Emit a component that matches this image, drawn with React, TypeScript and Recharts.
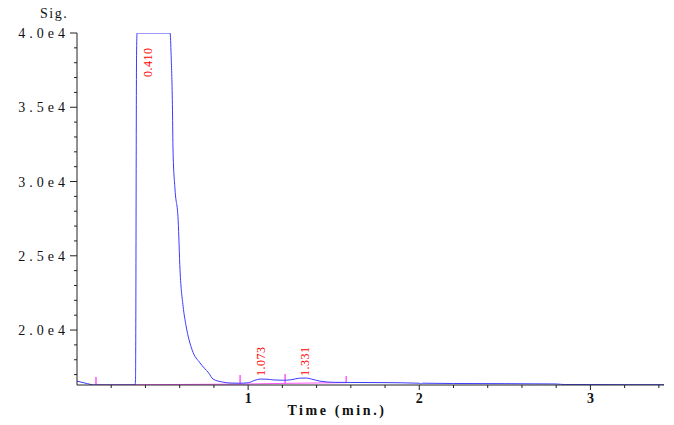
import { LineChart, Line, XAxis, YAxis, LabelList } from 'recharts';

// detector signal (blue trace)
const times = [
  0, 0.047, 0.105, 0.2, 0.3, 0.339, 0.342, 0.343, 0.348, 0.351, 0.544, 0.55, 0.558, 0.561,
  0.573, 0.591, 0.602, 0.62, 0.637, 0.673, 0.719, 0.77, 0.795, 0.85, 0.9, 0.95, 1.0, 1.04,
  1.07, 1.11, 1.15, 1.2, 1.25, 1.3, 1.34, 1.37, 1.42, 1.5, 1.6, 1.8, 2.0, 2.01, 2.02, 2.2,
  2.5, 2.8, 2.85, 3.0, 3.2, 3.43,
];
const signal = [
  16560, 16430, 16300, 16300, 16300, 16300, 16630, 18520, 38500, 40000, 40000, 38500, 34800,
  32120, 29430, 27400, 24040, 21600, 20300, 18650, 17780, 17100, 16700, 16500, 16430, 16420,
  16450, 16620, 16700, 16690, 16640, 16620, 16650, 16760, 16770, 16700, 16560, 16480, 16470,
  16460, 16420, 16370, 16420, 16400, 16390, 16370, 16330, 16330, 16320, 16320,
];

// integration baseline (magenta) with event markers
const markerTimes = [0.111, 0.953, 1.216, 1.573];
const markerBase = [16300, 16360, 16410, 16460];
const markerTop = [16840, 16970, 17040, 16900];

// peak annotations (value at the bottom end of each rotated label)
const peakTimes = [0.415, 1.076, 1.333];
const peakLabels = ['0.410', '1.073', '1.331'];
const peakLabelBase = [37040, 16900, 16900];

const yTicks = [17000, 18000, 19000, 20000, 21000, 22000, 23000, 24000, 25000, 26000, 27000,
  28000, 29000, 30000, 31000, 32000, 33000, 34000, 35000, 36000, 37000, 38000, 39000, 40000];
const xTicks = [0.2, 0.4, 0.6, 0.8, 1, 1.2, 1.4, 1.6, 1.8, 2, 2.2, 2.4, 2.6, 2.8, 3, 3.2, 3.4];

const signalData = times.map((t, i) => ({ t, v: signal[i] }));
const baseData = markerTimes.flatMap((t, i) => [
  { t, v: markerBase[i] },
  { t, v: markerTop[i] },
  { t, v: markerBase[i] },
]);
const peakData = peakTimes.map((t, i) => ({ t, v: peakLabelBase[i], label: peakLabels[i] }));

const FONT = '"Liberation Serif", "Times New Roman", serif';

const YTick = (props: any) => {
  const { x, y, payload } = props;
  const v = payload.value;
  const major = v % 5000 === 0;
  return (
    <g>
      <line x1={x - (major ? 7 : 3)} x2={x} y1={y} y2={y} stroke="#222" />
      {major && (
        <text x={x - 8} y={y} dy={5} textAnchor="end" fontSize={14} letterSpacing={4}
          fontFamily={FONT} fill="#111">
          {(v / 10000).toFixed(1) + 'e4'}
        </text>
      )}
    </g>
  );
};

const XTick = (props: any) => {
  const { x, y, payload } = props;
  const v = payload.value;
  const major = Math.abs(v - Math.round(v)) < 1e-6;
  return (
    <g>
      <line x1={x} x2={x} y1={y} y2={y + (major ? 5 : 3)} stroke="#222" />
      {major && (
        <text x={x} y={y + 18} textAnchor="middle" fontSize={14} fontWeight="bold"
          fontFamily={FONT} fill="#111">
          {v}
        </text>
      )}
    </g>
  );
};

const PeakLabel = (props: any) => {
  const { x, y, value } = props;
  return (
    <text x={x} y={y} transform={`rotate(-90 ${x} ${y})`} textAnchor="start" dominantBaseline="central"
      fontSize={12} letterSpacing={0.5} fontFamily={FONT} fill="#ff0000">
      {value}
    </text>
  );
};

export default function App() {
  return (
    <div style={{ position: 'absolute', left: 0, top: 0, width: 674, height: 425, background: '#fff' }}>
      <LineChart width={674} height={425} margin={{ top: 33, right: 10, left: 0, bottom: 0 }}>
        <XAxis type="number" dataKey="t" domain={[0, 3.43]} ticks={xTicks} allowDataOverflow
          interval={0} height={40} tickSize={0} tickMargin={0} tickLine={false} stroke="#222" tick={<XTick />} />
        <YAxis type="number" domain={[16300, 40000]} ticks={yTicks} allowDataOverflow
          interval={0} width={77} tickSize={0} tickMargin={0} tickLine={false} stroke="#222" tick={<YTick />} />
        <Line data={baseData} dataKey="v" type="linear" stroke="#ff55ff" strokeWidth={1} dot={false}
          isAnimationActive={false} />
        <Line data={signalData} dataKey="v" type="monotone" stroke="#3b3bff" strokeWidth={1} dot={false}
          isAnimationActive={false} />
        <Line data={peakData} dataKey="v" stroke="none" dot={false} isAnimationActive={false}>
          <LabelList dataKey="label" content={<PeakLabel />} />
        </Line>
      </LineChart>
      <div style={{ position: 'absolute', left: 40, top: 6, fontFamily: FONT, fontSize: 14, letterSpacing: 1.5, color: '#111' }}>
        Sig.
      </div>
      <div style={{ position: 'absolute', left: 0, width: 674, textAlign: 'center', top: 403,
        fontFamily: FONT, fontSize: 14, fontWeight: 'bold', letterSpacing: 2.6, color: '#111' }}>
        Time (min.)
      </div>
    </div>
  );
}
